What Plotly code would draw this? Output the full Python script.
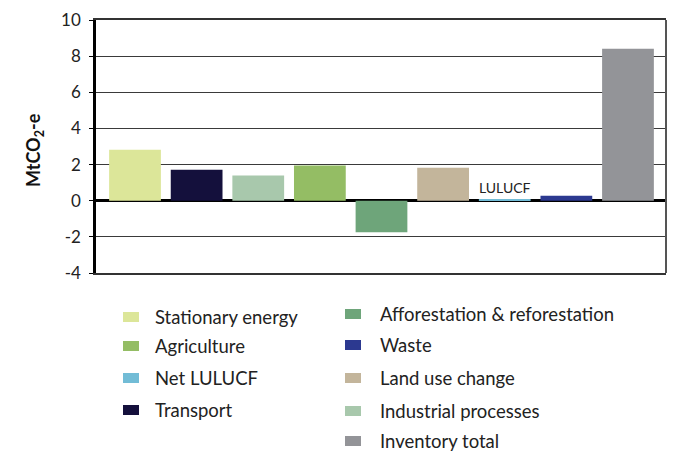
import plotly.graph_objects as go

categories = ["Stationary energy", "Transport", "Industrial processes", "Agriculture",
              "Afforestation & reforestation", "Land use change", "Net LULUCF", "Waste",
              "Inventory total"]
values = [2.82, 1.72, 1.40, 1.95, -1.75, 1.83, 0.07, 0.28, 8.41]
colors = ["#dce699", "#14103c", "#a8c8ac", "#94bd64", "#6ea57a", "#c3b59b", "#72bcd6",
          "#2c3990", "#939498"]
y_ticks = [-4, -2, 0, 2, 4, 6, 8, 10]

legend_left = ["Stationary energy", "Agriculture", "Net LULUCF", "Transport"]
legend_right = ["Afforestation & reforestation", "Waste", "Land use change",
                "Industrial processes", "Inventory total"]

OFF = 8  # default page body margin
W, H = 677 - OFF, 452 - OFF
ML, MT = 96 - OFF, 20 - OFF
MR = W - (666 - OFF)
MB = H - (273 - OFF)
PW, PH = W - ML - MR, H - MT - MB

fig = go.Figure()
for i, (c, v, col) in enumerate(zip(categories, values, colors)):
    fig.add_trace(go.Bar(x=[i], y=[v], marker=dict(color=col, line=dict(width=0)),
                         width=0.84, name=c, showlegend=False))

font = "Lato, 'Noto Sans', sans-serif"

fig.update_layout(
    width=W, height=H,
    margin=dict(l=ML, r=MR, t=MT, b=MB, autoexpand=False),
    paper_bgcolor="white", plot_bgcolor="white",
    xaxis=dict(range=[-0.633, 8.617], showticklabels=False, showgrid=False,
               zeroline=False, showline=True, linecolor="#333", linewidth=2,
               mirror=True, ticks=""),
    yaxis=dict(range=[-4, 10], tickvals=y_ticks, ticktext=[str(t) for t in y_ticks],
               showgrid=True, gridcolor="#3a3a3a", gridwidth=1.2,
               zeroline=True, zerolinecolor="black", zerolinewidth=2.5,
               showline=True, linecolor="black", linewidth=2.5,
               ticks="outside", ticklen=4, tickcolor="black", ticklabelstandoff=5,
               tickfont=dict(family=font, size=17, color="#222")),
    font=dict(family=font),
)

# right border
fig.add_shape(type="line", xref="paper", yref="paper", x0=1, x1=1, y0=0, y1=1,
              line=dict(color="#555", width=2))


def px_x(X):
    return (X - OFF - ML) / PW


def px_y(Y):
    return (MT + PH - (Y - OFF)) / PH


# y-axis title
fig.add_annotation(xref="paper", yref="paper", x=px_x(35), y=px_y(150),
                   text="<b>MtCO<sub>2</sub>-e</b>", textangle=-90, showarrow=False,
                   font=dict(family=font, size=18, color="#111"),
                   xanchor="center", yanchor="middle")

# LULUCF label above Net LULUCF bar
idx = categories.index("Net LULUCF")
fig.add_annotation(x=idx, y=values[idx], text="LULUCF", showarrow=False,
                   yanchor="bottom", yshift=1, font=dict(family=font, size=14, color="#222"))

# manual two-column legend
cmap = dict(zip(categories, colors))
left_rows = [317, 346, 378, 410]
right_rows = [314, 345, 378, 411, 441]
for names, rows, sx, tx in [(legend_left, left_rows, 123, 153),
                            (legend_right, right_rows, 345, 378)]:
    for n, Y in zip(names, rows):
        fig.add_shape(type="rect", xref="paper", yref="paper",
                      x0=px_x(sx), x1=px_x(sx + 16), y0=px_y(Y + 5), y1=px_y(Y - 5),
                      fillcolor=cmap[n], line=dict(width=0))
        fig.add_annotation(xref="paper", yref="paper", x=px_x(tx), y=px_y(Y), text=n,
                           showarrow=False, xanchor="left", yanchor="middle",
                           font=dict(family=font, size=18.5, color="#222"))

fig.write_html("out.html")
